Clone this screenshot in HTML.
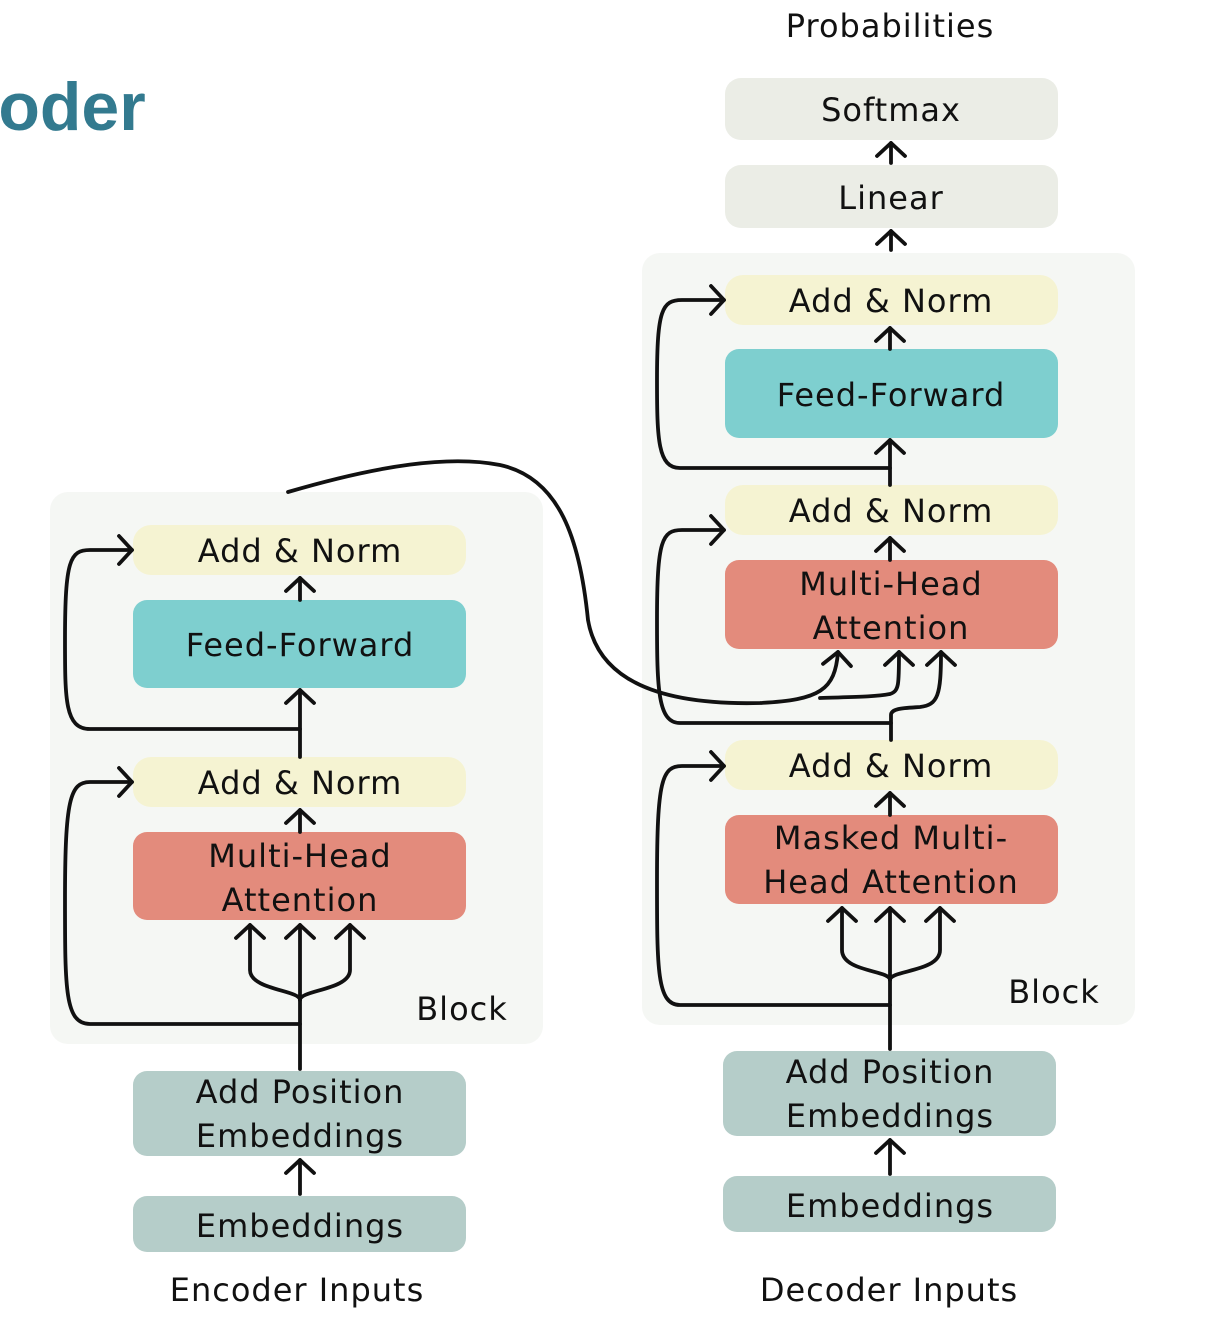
<!DOCTYPE html>
<html><head><style>
body{margin:0;background:#fff;}
svg text{font-family:"DejaVu Sans","Liberation Sans",sans-serif;font-size:32px;fill:#111;text-anchor:middle;letter-spacing:1px}
</style></head><body>
<svg width="1220" height="1330" viewBox="0 0 1220 1330" xmlns="http://www.w3.org/2000/svg">
<defs>
<marker id="a" markerWidth="10" markerHeight="10" refX="5" refY="5" orient="auto" markerUnits="userSpaceOnUse" viewBox="0 0 10 10" overflow="visible">
<path d="M-8,-9 L5,5 L-8,19" fill="none" stroke="#111" stroke-width="3.8" stroke-linecap="round" stroke-linejoin="round"/>
</marker>
</defs>
<text x="72" y="130" style="font-family:'Liberation Sans',sans-serif;font-weight:bold;font-size:68px;fill:#337a8f;letter-spacing:0">oder</text>
<rect x="50" y="492" width="493" height="552" rx="18" fill="#f5f7f4"/>
<rect x="642" y="253" width="493" height="772" rx="18" fill="#f5f7f4"/>
<rect x="133" y="525" width="333" height="50" rx="18" fill="#f5f3d2"/>
<rect x="133" y="600" width="333" height="88" rx="14" fill="#7ecfcf"/>
<rect x="133" y="757" width="333" height="50" rx="18" fill="#f5f3d2"/>
<rect x="133" y="832" width="333" height="88" rx="14" fill="#e38b7c"/>
<rect x="133" y="1071" width="333" height="85" rx="14" fill="#b5cdc9"/>
<rect x="133" y="1196" width="333" height="56" rx="14" fill="#b5cdc9"/>
<rect x="725" y="78" width="333" height="62" rx="16" fill="#ebede6"/>
<rect x="725" y="165" width="333" height="63" rx="16" fill="#ebede6"/>
<rect x="725" y="275" width="333" height="50" rx="18" fill="#f5f3d2"/>
<rect x="725" y="349" width="333" height="89" rx="14" fill="#7ecfcf"/>
<rect x="725" y="485" width="333" height="50" rx="18" fill="#f5f3d2"/>
<rect x="725" y="560" width="333" height="89" rx="14" fill="#e38b7c"/>
<rect x="725" y="740" width="333" height="50" rx="18" fill="#f5f3d2"/>
<rect x="725" y="815" width="333" height="89" rx="14" fill="#e38b7c"/>
<rect x="723" y="1051" width="333" height="85" rx="14" fill="#b5cdc9"/>
<rect x="723" y="1176" width="333" height="56" rx="14" fill="#b5cdc9"/>
<text x="300" y="562">Add &amp; Norm</text>
<text x="300" y="656">Feed-Forward</text>
<text x="300" y="794">Add &amp; Norm</text>
<text x="300" y="867">Multi-Head</text>
<text x="300" y="911">Attention</text>
<text x="300" y="1103">Add Position</text>
<text x="300" y="1147">Embeddings</text>
<text x="300" y="1237">Embeddings</text>
<text x="297" y="1301">Encoder Inputs</text>
<text x="462" y="1020">Block</text>
<text x="890" y="37">Probabilities</text>
<text x="891" y="121">Softmax</text>
<text x="891" y="209">Linear</text>
<text x="891" y="312">Add &amp; Norm</text>
<text x="891" y="406">Feed-Forward</text>
<text x="891" y="522">Add &amp; Norm</text>
<text x="891" y="595">Multi-Head</text>
<text x="891" y="639">Attention</text>
<text x="891" y="777">Add &amp; Norm</text>
<text x="891" y="849">Masked Multi-</text>
<text x="891" y="893">Head Attention</text>
<text x="890" y="1083">Add Position</text>
<text x="890" y="1127">Embeddings</text>
<text x="890" y="1217">Embeddings</text>
<text x="889" y="1301">Decoder Inputs</text>
<text x="1054" y="1003">Block</text>
<g fill="none" stroke="#111" stroke-width="3.8" stroke-linecap="round" stroke-linejoin="round">
<path d="M300 1194 V1160" marker-end="url(#a)"/>
<path d="M300 1069 V925" marker-end="url(#a)"/>
<path d="M300 1000 C300 990 250 990 250 970 V925" marker-end="url(#a)"/>
<path d="M300 1000 C300 990 350 990 350 970 V925" marker-end="url(#a)"/>
<path d="M300 1024 H90 C65 1024 65 990 65 900 C65 800 70 782 90 782 H132" marker-end="url(#a)"/>
<path d="M300 832 V810" marker-end="url(#a)"/>
<path d="M300 757 V690" marker-end="url(#a)"/>
<path d="M300 729 H90 C65 729 65 700 65 640 C65 560 70 550 90 550 H132" marker-end="url(#a)"/>
<path d="M300 600 V578" marker-end="url(#a)"/>
<path d="M288 492 C380 465 450 455 500 465 C560 478 580 540 588 620 C600 690 680 705 760 703 C820 700 835 690 838 652" marker-end="url(#a)"/>
<path d="M820 698 C850 697 875 697 890 694 C899 691 899 685 899 652" marker-end="url(#a)"/>
<path d="M890 1174 V1140" marker-end="url(#a)"/>
<path d="M890 1049 V908" marker-end="url(#a)"/>
<path d="M890 980 C890 970 842 972 842 950 V908" marker-end="url(#a)"/>
<path d="M890 980 C890 970 940 972 940 950 V908" marker-end="url(#a)"/>
<path d="M890 1005 H680 C657 1005 657 970 657 880 C657 780 662 766 682 766 H724" marker-end="url(#a)"/>
<path d="M890 815 V793" marker-end="url(#a)"/>
<path d="M891 740 V715 C891 708 905 708 920 707 C938 705 941 695 941 652" marker-end="url(#a)"/>
<path d="M891 723 H680 C658 723 657 690 657 620 C657 540 662 530 682 530 H724" marker-end="url(#a)"/>
<path d="M890 560 V538" marker-end="url(#a)"/>
<path d="M890 485 V440" marker-end="url(#a)"/>
<path d="M890 468 H680 C658 468 657 440 657 380 C657 310 662 300 682 300 H724" marker-end="url(#a)"/>
<path d="M890 349 V328" marker-end="url(#a)"/>
<path d="M891 250 V231" marker-end="url(#a)"/>
<path d="M891 163 V143" marker-end="url(#a)"/>
</g>
</svg>
</body></html>
